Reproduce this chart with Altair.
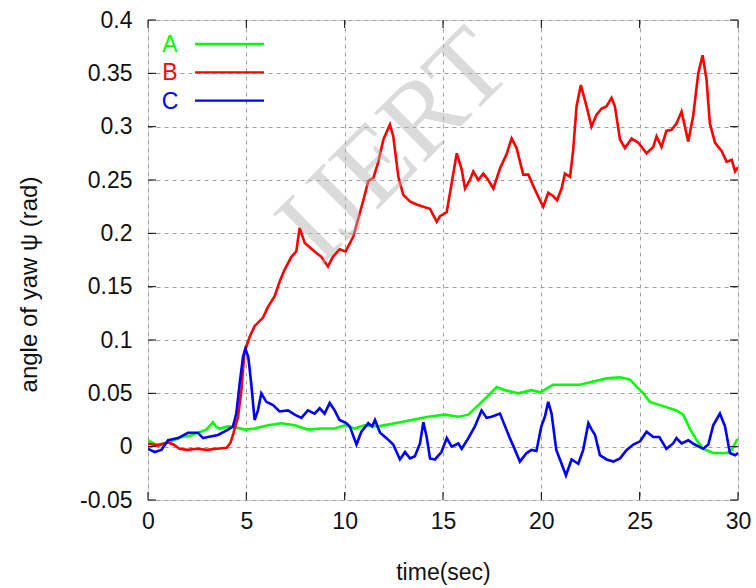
import altair as alt
import pandas as pd

# ---- data ----
series_names = ["A", "B", "C"]
series_colors = ["#00ff00", "#ff0000", "#0000ff"]

t_A = [0, 0.4, 0.85, 1.3, 1.7, 2.1, 2.54, 2.97, 3.3, 3.45, 3.64, 4.07, 4.5, 4.91, 5.42, 6.1, 6.78,
       7.46, 8.13, 8.81, 9.49, 10.0, 10.5, 11.0, 11.71, 12.56, 13.4, 14.25, 15.1, 15.78, 16.29, 16.8,
       17.31, 17.73, 18.15, 18.83, 19.5, 19.93, 20.6, 21.28, 21.96, 22.64, 23.32, 24.0, 24.5, 24.85,
       25.19, 25.52, 26.2, 26.87, 27.21, 27.55, 27.9, 28.23, 28.74, 29.42, 29.68, 29.93, 30.0]
v_A = [0.006, 0.002, 0.003, 0.006, 0.009, 0.010, 0.013, 0.016, 0.023, 0.019, 0.017, 0.019, 0.018,
       0.016, 0.017, 0.020, 0.022, 0.020, 0.016, 0.017, 0.017, 0.020, 0.017, 0.020, 0.019, 0.022,
       0.025, 0.028, 0.030, 0.028, 0.030, 0.039, 0.048, 0.056, 0.053, 0.050, 0.053, 0.051, 0.058,
       0.058, 0.058, 0.061, 0.064, 0.065, 0.063, 0.056, 0.050, 0.042, 0.038, 0.034, 0.030, 0.017,
       0.006, -0.002, -0.006, -0.006, -0.003, 0.006, 0.007]

t_B = [0, 0.5, 1.0, 1.3, 1.6, 2.0, 2.5, 3.0, 3.5, 4.0, 4.2, 4.35, 4.58, 4.75, 4.9, 5.17, 5.42, 5.85,
       6.1, 6.44, 6.7, 6.95, 7.29, 7.54, 7.71, 7.97, 8.47, 8.81, 9.15, 9.4, 9.74, 10.05, 10.44, 10.95,
       11.2, 11.46, 11.71, 11.97, 12.3, 12.47, 12.73, 12.98, 13.32, 13.66, 14.0, 14.34, 14.68, 14.85,
       15.19, 15.44, 15.7, 15.95, 16.12, 16.37, 16.54, 16.79, 17.05, 17.3, 17.56, 17.9, 18.23, 18.49,
       18.74, 19.08, 19.34, 19.6, 19.93, 20.1, 20.35, 20.6, 20.8, 21.03, 21.2, 21.46, 21.62, 21.79,
       22.01, 22.3, 22.55, 22.8, 23.07, 23.31, 23.57, 23.74, 24.0, 24.25, 24.59, 24.93, 25.35, 25.69,
       25.86, 26.11, 26.36, 26.62, 26.87, 27.13, 27.47, 27.72, 27.98, 28.2, 28.4, 28.57, 28.83, 29.17,
       29.42, 29.68, 29.85, 30.0]
v_B = [0.003, 0.001, 0.004, 0.002, -0.002, -0.003, -0.002, -0.003, -0.002, -0.001, 0.004, 0.013,
       0.028, 0.053, 0.088, 0.103, 0.113, 0.121, 0.131, 0.141, 0.155, 0.166, 0.178, 0.183, 0.205,
       0.191, 0.183, 0.178, 0.169, 0.178, 0.185, 0.183, 0.197, 0.231, 0.249, 0.252, 0.267, 0.288,
       0.302, 0.291, 0.253, 0.236, 0.230, 0.227, 0.225, 0.223, 0.211, 0.216, 0.220, 0.247, 0.275,
       0.260, 0.242, 0.250, 0.258, 0.250, 0.256, 0.250, 0.242, 0.261, 0.274, 0.289, 0.280, 0.255,
       0.255, 0.244, 0.231, 0.225, 0.238, 0.235, 0.231, 0.242, 0.256, 0.253, 0.278, 0.319, 0.339,
       0.319, 0.300, 0.311, 0.317, 0.319, 0.327, 0.319, 0.288, 0.280, 0.289, 0.285, 0.275, 0.281,
       0.291, 0.281, 0.296, 0.297, 0.303, 0.314, 0.286, 0.310, 0.350, 0.367, 0.344, 0.303, 0.285,
       0.277, 0.267, 0.269, 0.258, 0.262]

t_C = [0, 0.34, 0.68, 1.02, 1.53, 2.03, 2.54, 2.8, 3.05, 3.56, 4.07, 4.32, 4.49, 4.66, 4.83, 4.95,
       5.1, 5.25, 5.42, 5.59, 5.76, 6.02, 6.36, 6.69, 7.12, 7.46, 7.8, 8.13, 8.47, 8.73, 8.98, 9.24,
       9.49, 9.74, 10.08, 10.26, 10.6, 10.85, 11.2, 11.4, 11.54, 11.8, 12.13, 12.47, 12.81, 13.07,
       13.32, 13.57, 13.83, 14.0, 14.17, 14.34, 14.59, 14.92, 15.19, 15.44, 15.78, 15.95, 16.29,
       16.62, 16.96, 17.22, 17.47, 17.9, 18.07, 18.4, 18.66, 18.91, 19.25, 19.5, 19.75, 20.0, 20.18,
       20.35, 20.52, 20.76, 21.03, 21.25, 21.54, 21.88, 22.13, 22.39, 22.56, 22.73, 22.98, 23.32,
       23.66, 24.0, 24.34, 24.68, 25.02, 25.35, 25.69, 26.0, 26.36, 26.7, 26.87, 27.13, 27.47, 27.8,
       28.23, 28.49, 28.74, 29.08, 29.34, 29.59, 29.85, 30.0]
v_C = [-0.002, -0.005, -0.003, 0.006, 0.008, 0.013, 0.013, 0.008, 0.009, 0.011, 0.016, 0.019,
       0.031, 0.059, 0.084, 0.092, 0.084, 0.059, 0.025, 0.034, 0.050, 0.042, 0.039, 0.033, 0.034,
       0.030, 0.027, 0.034, 0.031, 0.036, 0.031, 0.041, 0.034, 0.025, 0.022, 0.019, 0.002, 0.014,
       0.022, 0.019, 0.025, 0.013, 0.008, 0.002, -0.012, -0.005, -0.011, -0.009, 0.003, 0.023,
       0.009, -0.011, -0.012, -0.005, 0.008, 0.000, 0.003, -0.002, 0.008, 0.019, 0.034, 0.027,
       0.028, 0.031, 0.023, 0.008, -0.003, -0.014, -0.006, -0.003, -0.004, 0.019, 0.028, 0.042,
       0.031, -0.003, -0.016, -0.027, -0.012, -0.016, -0.003, 0.022, 0.016, 0.011, -0.008, -0.012,
       -0.014, -0.011, -0.003, 0.002, 0.005, 0.014, 0.009, 0.009, -0.002, 0.003, 0.008, 0.003,
       0.006, 0.002, -0.002, 0.002, 0.020, 0.031, 0.019, -0.006, -0.008, -0.006]

x_ticks = [0, 5, 10, 15, 20, 25, 30]
y_ticks = [-0.05, 0, 0.05, 0.1, 0.15, 0.2, 0.25, 0.3, 0.35, 0.4]

# ---- build tables ----
rows = []
for name, ts, vs in zip(series_names, [t_A, t_B, t_C], [v_A, v_B, v_C]):
    rows += [{"series": name, "t": t, "v": v} for t, v in zip(ts, vs)]
df = pd.DataFrame(rows)

X_MIN, X_MAX = x_ticks[0], x_ticks[-1]
Y_MIN, Y_MAX = y_ticks[0], y_ticks[-1]
xscale = alt.Scale(domain=[X_MIN, X_MAX], nice=False, zero=False)
yscale = alt.Scale(domain=[Y_MIN, Y_MAX], nice=False, zero=False)

W, H = 590, 480
FONT = "Liberation Sans"

x_axis = alt.Axis(values=x_ticks, format="d", grid=True, gridDash=[4, 4], gridColor="#a0a0a0",
                  gridWidth=1, ticks=False, domain=False, labelFontSize=23, labelFont=FONT,
                  labelColor="#111", labelPadding=10, labelFlush=False, labelOverlap=False,
                  title="time(sec)", titleFont=FONT,
                  titleFontSize=23, titleFontWeight="normal", titleColor="#111",
                  titleX=W / 2, titleY=72, titleBaseline="middle", titleAlign="center")
y_axis = alt.Axis(values=y_ticks, labelExpr="'' + datum.value", grid=True, gridDash=[4, 4],
                  gridColor="#a0a0a0", gridWidth=1, ticks=False, domain=False, labelFontSize=23,
                  labelFont=FONT, labelColor="#111", labelPadding=16, labelFlush=False,
                  labelOverlap=False,
                  title="angle of yaw ψ (rad)", titleFont=FONT, titleFontSize=24,
                  titleFontWeight="normal", titleColor="#111", titleAngle=270, titleX=-119,
                  titleY=264, titleAlign="center", titleBaseline="middle")

lines = alt.Chart(df).mark_line(strokeWidth=2.6, clip=True).encode(
    x=alt.X("t:Q", scale=xscale, axis=x_axis),
    y=alt.Y("v:Q", scale=yscale, axis=y_axis),
    color=alt.Color("series:N", scale=alt.Scale(domain=series_names, range=series_colors), legend=None),
)

# inward tick marks on all four sides (derived from tick arrays)
tx = (X_MAX - X_MIN) * 8 / W
ty = (Y_MAX - Y_MIN) * 8 / H
xt = pd.DataFrame({"t": x_ticks * 2,
                   "v": [Y_MIN] * len(x_ticks) + [Y_MAX] * len(x_ticks),
                   "v2": [Y_MIN + ty] * len(x_ticks) + [Y_MAX - ty] * len(x_ticks)})
yt = pd.DataFrame({"v": y_ticks * 2,
                   "t": [X_MIN] * len(y_ticks) + [X_MAX] * len(y_ticks),
                   "t2": [X_MIN + tx] * len(y_ticks) + [X_MAX - tx] * len(y_ticks)})
xtick_layer = alt.Chart(xt).mark_rule(color="#000", strokeWidth=1).encode(
    x=alt.X("t:Q", scale=xscale, axis=x_axis),
    y=alt.Y("v:Q", scale=yscale, axis=y_axis), y2="v2:Q")
ytick_layer = alt.Chart(yt).mark_rule(color="#000", strokeWidth=1).encode(
    y=alt.Y("v:Q", scale=yscale, axis=y_axis),
    x=alt.X("t:Q", scale=xscale, axis=x_axis), x2="t2:Q")

# watermark
watermark = alt.Chart(pd.DataFrame({"w": ["IJERT"]})).mark_text(
    font="Liberation Serif", fontSize=108, angle=315, color="#b0b0b0", opacity=0.45,
    align="center", baseline="middle").encode(
    text="w:N", x=alt.value(247), y=alt.value(127))

# key (text left of line sample)
key_layers = []
for i, (name, col) in enumerate(zip(series_names, series_colors)):
    yy = 24 + 28.3 * i
    key_layers.append(alt.Chart(pd.DataFrame({"s": [name]})).mark_text(
        font=FONT, fontSize=23, color=col, align="center", baseline="middle").encode(
        text="s:N", x=alt.value(22), y=alt.value(yy + 1)))
    key_layers.append(alt.Chart(pd.DataFrame({"s": [name]})).mark_rule(
        color=col, strokeWidth=2.3).encode(x=alt.value(47), x2=alt.value(116), y=alt.value(yy)))

chart = alt.layer(lines, watermark, xtick_layer, ytick_layer, *key_layers).properties(
    width=W, height=H,
    autosize=alt.AutoSizeParams(type="none"),
    padding={"left": 148, "top": 20, "right": 18, "bottom": 88},
).configure_view(stroke="#000", strokeWidth=1.5).configure(background="white")

chart.save("out.html", embed_options={"renderer": "svg", "actions": False})
